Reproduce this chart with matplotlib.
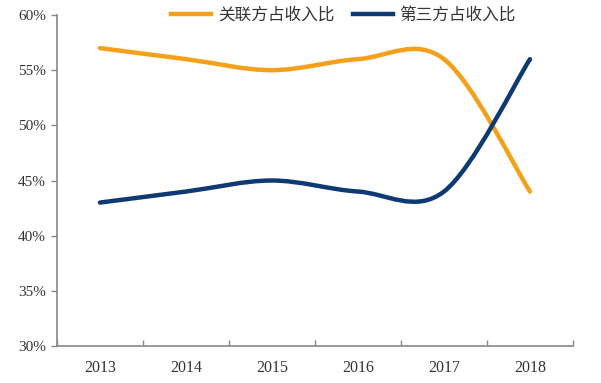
import matplotlib.pyplot as plt
from matplotlib.path import Path
from matplotlib.patches import PathPatch
from matplotlib.lines import Line2D
from matplotlib.ticker import FixedLocator, NullFormatter

plt.rcParams['font.family'] = ['Liberation Serif', 'Noto Sans CJK SC']

years = ['2013', '2014', '2015', '2016', '2017', '2018']
related = [57, 56, 55, 56, 56, 44]       # 关联方占收入比 (%)
third_party = [43, 44, 45, 44, 44, 56]   # 第三方占收入比 (%)
labels = ['关联方占收入比', '第三方占收入比']
colors = ['#F5A01A', '#0E3A73']


def smooth_path(xs, ys):
    # Excel-style smoothed line: cubic Bezier through every point
    pts = list(zip(xs, ys))
    n = len(pts)
    verts = [pts[0]]
    codes = [Path.MOVETO]
    for i in range(n - 1):
        p0 = pts[max(i - 1, 0)]
        p1 = pts[i]
        p2 = pts[i + 1]
        p3 = pts[min(i + 2, n - 1)]
        c1 = (p1[0] + (p2[0] - p0[0]) / 6, p1[1] + (p2[1] - p0[1]) / 6)
        c2 = (p2[0] - (p3[0] - p1[0]) / 6, p2[1] - (p3[1] - p1[1]) / 6)
        verts += [c1, c2, p2]
        codes += [Path.CURVE4] * 3
    return Path(verts, codes)


fig = plt.figure(figsize=(6.01, 3.83), dpi=100)
ax = fig.add_axes([0.0948, 0.0966, 0.8586, 0.8642])

x = list(range(len(years)))
for series, c in zip([related, third_party], colors):
    ax.add_patch(PathPatch(smooth_path(x, series), fill=False, edgecolor=c,
                           linewidth=3.2, capstyle='round', joinstyle='round'))

ax.set_xlim(-0.5, len(years) - 0.5)
ax.set_ylim(30, 60)
ax.set_yticks(range(30, 61, 5))
ax.set_yticklabels([f'{v}%' for v in range(30, 61, 5)], fontsize=11, color='#333333')
ax.set_xticks(x)
ax.set_xticklabels(years, fontsize=11.5, color='#333333')
ax.tick_params(axis='x', which='major', length=0, pad=10)
ax.xaxis.set_minor_locator(FixedLocator([i - 0.5 for i in range(len(years) + 1)]))
ax.xaxis.set_minor_formatter(NullFormatter())
ax.tick_params(axis='x', which='minor', length=4, width=1, color='#888888', direction='in')
ax.tick_params(axis='y', length=4, width=1, color='#888888', pad=4)

for s in ['top', 'right']:
    ax.spines[s].set_visible(False)
for s in ['left', 'bottom']:
    ax.spines[s].set_color('#888888')
    ax.spines[s].set_linewidth(1.2)

handles = [Line2D([], [], color=c, linewidth=3.2) for c in colors]
ax.legend(handles, labels, loc='center', bbox_to_anchor=(0.555, 1.0), ncol=2,
          frameon=False, handlelength=2.4, columnspacing=1.1, handletextpad=0.4,
          prop={'family': ['Noto Sans CJK SC'], 'size': 12}, labelcolor='#333333')

fig.savefig('out.png', dpi=100)
